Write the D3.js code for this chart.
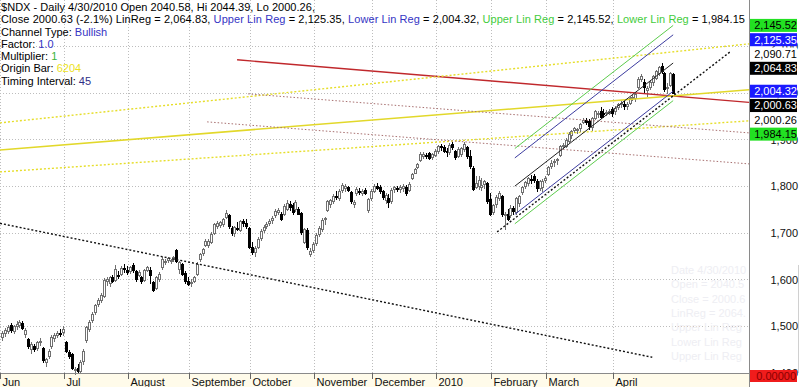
<!DOCTYPE html>
<html><head><meta charset="utf-8">
<script src="https://cdn.jsdelivr.net/npm/d3@7"></script>
<style>
html,body{margin:0;padding:0;background:#fff;}
svg{display:block;font-family:"Liberation Sans",Arial,sans-serif;font-size:11px;}
</style></head><body>
<svg id="chart" width="800" height="387"></svg>
<script>
// ---------------- DATA ----------------
const monthLabels = ["Jun","Jul","August","September","October","November","December","2010","February","March","April"];
const tradingDaysPerMonth = [22,22,21,21,22,20,22,19,19,23,21];
const priceTicks = [1400,1500,1600,1700,1800,1900,2000,2100];
const priceTickLabels = ["1,400","1,500","1,600","1,700","1,800","1,900","2,000","2,100"];

const opens = [
1478,1486,1491,1503,1491,1500,1504,1507,1484,1473,1452,1458,1453,1466,1454,1424,1436,1457,1474,1482,1485,1487,
1466,1446,1441,1406,1411,1405,1425,1470,1495,1513,1530,1548,1557,1566,1597,1594,1605,1600,1611,1613,1625,1621,
1618,1632,1619,1611,1605,1600,1621,1620,1596,1582,1601,1627,1637,1642,1640,1644,1664,1622,1634,1615,1598,
1593,1598,1613,1644,1657,1675,1674,1682,1701,1716,1718,1720,1734,1738,1712,1700,1711,1707,1725,1722,1711,
1670,1660,1670,1690,1706,1715,1721,1728,1738,1745,1742,1741,1752,1762,1760,1752,1752,1743,1682,1707,1655,1663,
1678,1698,1709,1730,1750,1762,1768,1780,1776,1792,1796,1800,1789,1762,1785,1791,1786,1792,1750,1776,
1791,1801,1798,1790,1772,1775,1768,1794,1796,1794,1797,1800,1793,1819,1830,1842,1856,1865,1868,1871,1864,1868,
1877,1886,1884,1876,1874,1892,1876,1866,1870,1880,1885,1866,1840,1800,1802,1798,1806,1808,1774,
1746,1762,1776,1780,1738,1742,1738,1754,1746,1764,1788,1802,1808,1816,1822,1812,1796,1800,1815,
1826,1844,1852,1856,1868,1886,1886,1898,1910,1922,1922,1925,1938,1942,1940,1928,1946,1956,1962,1958,1958,1958,1966,
1962,1970,1976,1978,1972,1980,1990,1990,2014,2030,2025,2008,2014,2024,2032,2044,2058,2044,2012,2018,2040.58];
const highs = [
1490,1497,1503,1508,1504,1511,1513,1511,1496,1476,1467,1462,1469,1475,1456,1432,1452,1481,1485,1490,1494,1500,
1469,1449,1443,1413,1419,1427,1451,1501,1513,1531,1549,1561,1571,1603,1605,1609,1611,1631,1619,1630,1633,1629,
1630,1635,1621,1620,1609,1623,1630,1628,1597,1609,1616,1648,1645,1649,1645,1651,1667,1640,1636,1618,1605,
1602,1609,1638,1658,1669,1687,1688,1702,1722,1726,1727,1733,1750,1740,1716,1716,1724,1729,1731,1730,1713,
1680,1672,1692,1708,1718,1723,1730,1736,1752,1753,1745,1762,1772,1768,1764,1770,1756,1746,1712,1710,1668,1680,
1700,1716,1732,1735,1772,1773,1784,1790,1794,1808,1805,1802,1790,1770,1798,1796,1794,1796,1776,1795,
1806,1808,1804,1792,1785,1783,1796,1801,1802,1803,1806,1804,1809,1830,1840,1851,1873,1873,1872,1874,1872,1880,
1890,1891,1888,1882,1893,1895,1879,1884,1884,1896,1887,1878,1843,1822,1822,1818,1815,1810,1786,
1763,1781,1790,1782,1745,1752,1760,1758,1778,1782,1801,1812,1820,1824,1827,1816,1815,1816,1822,
1845,1856,1858,1862,1889,1894,1904,1916,1922,1928,1926,1936,1946,1946,1944,1948,1964,1962,1970,1966,1964,1966,1970,
1972,1980,1983,1984,1981,1992,1997,2000,2034,2042,2030,2016,2028,2040,2050,2058,2064,2046,2022,2046,2044.39];
const lows = [
1470,1480,1485,1489,1486,1495,1498,1494,1478,1454,1442,1447,1450,1460,1424,1415,1433,1454,1469,1477,1480,1481,
1444,1433,1408,1397,1400,1401,1420,1467,1490,1509,1527,1544,1553,1563,1589,1587,1595,1598,1603,1611,1617,1613,
1615,1617,1598,1608,1593,1597,1618,1594,1576,1580,1598,1624,1634,1639,1636,1641,1638,1614,1610,1594,1588,
1587,1595,1611,1641,1654,1672,1670,1679,1698,1712,1714,1716,1732,1712,1697,1694,1706,1704,1716,1712,1668,
1655,1652,1668,1686,1702,1710,1717,1722,1735,1740,1728,1738,1749,1750,1742,1748,1740,1699,1678,1667,1650,1659,
1674,1693,1705,1720,1748,1757,1765,1774,1772,1789,1790,1790,1765,1757,1782,1783,1782,1784,1745,1772,
1788,1794,1786,1774,1765,1757,1765,1789,1790,1789,1791,1782,1790,1816,1828,1840,1854,1861,1862,1858,1860,1865,
1872,1879,1874,1866,1870,1880,1860,1863,1866,1877,1862,1840,1792,1796,1795,1793,1796,1764,1738,
1741,1755,1770,1737,1708,1728,1734,1740,1742,1758,1784,1796,1804,1808,1810,1791,1792,1790,1810,
1824,1840,1845,1848,1866,1882,1884,1896,1905,1916,1914,1920,1936,1933,1924,1922,1944,1950,1947,1950,1953,1956,1952,
1956,1966,1970,1966,1966,1976,1985,1984,2012,2026,2000,1995,2010,2018,2030,2040,2044,2005,2000,2016,2000.26];
const closes = [
1486,1493,1499,1492,1501,1506,1509,1497,1492,1457,1463,1451,1466,1469,1427,1429,1448,1478,1482,1486,1483,1495,
1447,1437,1411,1409,1405,1423,1448,1498,1509,1527,1545,1557,1567,1599,1601,1605,1598,1624,1608,1626,1622,1616,
1627,1620,1601,1616,1598,1620,1627,1610,1579,1605,1613,1644,1641,1646,1642,1648,1641,1637,1613,1597,1591,
1596,1606,1634,1655,1666,1684,1683,1699,1719,1722,1724,1730,1744,1716,1701,1713,1708,1726,1722,1716,1671,
1660,1668,1688,1705,1714,1720,1727,1733,1748,1749,1731,1758,1764,1756,1745,1766,1742,1702,1709,1670,1661,1676,
1696,1712,1728,1733,1768,1770,1780,1777,1791,1804,1801,1792,1768,1766,1794,1788,1791,1787,1773,1790,
1802,1797,1790,1778,1781,1767,1793,1798,1794,1800,1802,1786,1806,1827,1837,1848,1869,1870,1866,1861,1869,1877,
1886,1884,1877,1875,1890,1884,1863,1880,1882,1891,1866,1844,1795,1808,1815,1804,1811,1768,1742,
1760,1778,1786,1740,1741,1731,1753,1748,1775,1779,1799,1810,1818,1815,1814,1796,1812,1812,1818,
1842,1851,1854,1860,1886,1889,1900,1912,1920,1925,1923,1933,1943,1939,1930,1946,1961,1958,1950,1956,1960,1963,1957,
1968,1978,1980,1972,1978,1990,1992,1998,2031,2037,2013,2012,2024,2037,2047,2056,2047,2009,2014,2043,2000.63];

// drawn lines: day index / price of both ends
const lineNames      = ["longTrend","redLine","yellowUpper","yellowMid","yellowLower","brownUpper","brownLower","channelBase"];
const lineStartDay   = [-0.7, 80.9, -0.7, -0.7, -0.7, 84.7, 70.6, 170.4];
const lineStartPrice = [1721, 2071.7, 1936.5, 1878.5, 1831.3, 1998.7, 1938.6, 1702.6];
const lineEndDay     = [223.8, 257.1, 257.1, 257.1, 257.1, 257.1, 257.1, 251];
const lineEndPrice   = [1433.7, 1980.5, 2106, 2007.3, 1940.8, 1915, 1848.5, 2090.71];

// linear regression channel
const channelNames = ["upperGreen","upperBlue","linReg","lowerBlue","lowerGreen"];
const channelStartDay = 176.5, channelEndDay = 231;
const channelStart = [1881.5, 1861.3, 1800.8, 1740.3, 1720.1];
const channelEnd   = [2145.52, 2125.35, 2064.83, 2004.32, 1984.15];

// price-axis readouts
const readoutValues = [2145.52, 2125.35, 2090.71, 2064.83, 2004.32, 2000.63, 2000.26, 1984.15];
const readoutLabels = ["2,145.52","2,125.35","2,090.71","2,064.83","2,004.32","2,000.63","2,000.26","1,984.15"];
const readoutKinds  = ["green","blue","plain","black","blue","black","plain","green"];

// faint data-window text
const ghostLines = ["Date 4/30/2010","Open = 2040.58","Close = 2000.63","LinReg = 2064.83","Upper Lin Reg = 2125.35","Lower Lin Reg = 2004.32","Upper Lin Reg = 2145.52"];

// ---------------- STYLES ----------------
const lineStyle = {
  longTrend:  {stroke:"#111", w:1.4, dash:"2,2"},
  redLine:    {stroke:"#c0282c", w:1.4, dash:null},
  yellowUpper:{stroke:"#e6de2a", w:1.4, dash:"2,2"},
  yellowMid:  {stroke:"#e2d82a", w:1.5, dash:null},
  yellowLower:{stroke:"#e6de2a", w:1.4, dash:"2,2"},
  brownUpper: {stroke:"#a87070", w:1, dash:"1.5,2"},
  brownLower: {stroke:"#a87070", w:1, dash:"1.5,2"},
  channelBase:{stroke:"#111", w:1.4, dash:"2,2"}
};
const channelStyle = {
  upperGreen:{stroke:"#5ccc4c", w:1}, upperBlue:{stroke:"#3c3ca0", w:1},
  linReg:{stroke:"#222", w:1}, lowerBlue:{stroke:"#3c3ca0", w:1}, lowerGreen:{stroke:"#5ccc4c", w:1}
};
const readoutStyle = {
  green:{bg:"#22e022", fg:"#000"}, blue:{bg:"#1a1aff", fg:"#fff"},
  black:{bg:"#000", fg:"#fff"}, plain:{bg:"#fff", fg:"#000"}
};

// ---------------- CHART ----------------
const svg = d3.select("#chart");
const plotRight = 749, plotBottom = 373;
const x = d3.scaleLinear().domain([-0.7, 257.1]).range([0, plotRight]);
const y = d3.scaleLinear().domain([1400, 2200]).range([plotBottom, 0]);
const step = x(1) - x(0);
const monthStart = [0, ...d3.cumsum(tradingDaysPerMonth)].slice(0, monthLabels.length);
const px = v => Math.floor(v) + 0.5;

svg.append("rect").attr("width",800).attr("height",387).attr("fill","#fff");
svg.append("rect").attr("x",0).attr("y",plotBottom).attr("width",plotRight).attr("height",387-plotBottom).attr("fill","#fffbea");

// grid
const grid = svg.append("g").attr("stroke","#bdbdbd").attr("stroke-dasharray","1,2").attr("stroke-width",1);
priceTicks.forEach(p => grid.append("line").attr("x1",0).attr("x2",plotRight).attr("y1",px(y(p))).attr("y2",px(y(p))));
monthStart.forEach(d => { const gx = px(x(d) - step/2); grid.append("line").attr("x1",gx).attr("x2",gx).attr("y1",0).attr("y2",plotBottom); });

// faint data window, cut at the plot's right edge
const gg = svg.append("g");
ghostLines.forEach((t,i) => {
  const el = gg.append("text").attr("x",671).attr("y",274+i*14.3).attr("fill","#eeeef3").text(t);
  let s = t;
  while (s.length > 1 && 671 + el.node().getComputedTextLength() > plotRight - 1) { s = s.slice(0,-1); el.text(s); }
});

// candles
const candles = svg.append("g");
closes.forEach((c,i) => {
  const o = opens[i], up = c >= o, cx = Math.round(x(i));
  const col = up ? "#707070" : "#000";
  candles.append("line").attr("x1",cx+0.5).attr("x2",cx+0.5)
    .attr("y1",Math.round(y(highs[i]))).attr("y2",Math.round(y(lows[i]))+1).attr("stroke",col).attr("stroke-width",1);
  const top = Math.round(y(Math.max(o,c))), bot = Math.round(y(Math.min(o,c)));
  candles.append("rect").attr("x",cx-0.5).attr("y",top+0.5).attr("width",2).attr("height",Math.max(1,bot-top))
    .attr("fill", up ? "#fff" : "#000").attr("stroke",col).attr("stroke-width",1);
});

// trend lines
const lg = svg.append("g").attr("fill","none");
lineNames.forEach((n,i) => {
  const s = lineStyle[n];
  lg.append("line").attr("x1",x(lineStartDay[i])).attr("y1",y(lineStartPrice[i]))
    .attr("x2",x(lineEndDay[i])).attr("y2",y(lineEndPrice[i]))
    .attr("stroke",s.stroke).attr("stroke-width",s.w).attr("stroke-dasharray",s.dash);
});
channelNames.forEach((n,i) => {
  const s = channelStyle[n];
  lg.append("line").attr("x1",x(channelStartDay)).attr("y1",y(channelStart[i]))
    .attr("x2",x(channelEndDay)).attr("y2",y(channelEnd[i]))
    .attr("stroke",s.stroke).attr("stroke-width",s.w);
});

// frame
svg.append("line").attr("x1",0).attr("x2",plotRight).attr("y1",plotBottom+0.5).attr("y2",plotBottom+0.5).attr("stroke","#8a8a8a");
svg.append("line").attr("x1",plotRight+0.5).attr("x2",plotRight+0.5).attr("y1",0).attr("y2",387).attr("stroke","#8a8a8a");
svg.append("line").attr("x1",798.5).attr("x2",798.5).attr("y1",265).attr("y2",plotBottom).attr("stroke","#d0d0d0");

// x axis
const xa = svg.append("g");
monthLabels.forEach((m,i) => {
  const tx = px(x(monthStart[i]) - step/2);
  xa.append("line").attr("x1",tx).attr("x2",tx).attr("y1",plotBottom).attr("y2",plotBottom+6).attr("stroke","#666");
  xa.append("text").attr("x",tx+2).attr("y",386).attr("fill","#111").text(m);
});

// y axis labels
const ya = svg.append("g");
priceTicks.forEach((p,i) => ya.append("text").attr("x",798).attr("y",y(p)).attr("dy","0.35em")
  .attr("text-anchor","end").attr("fill","#111").text(priceTickLabels[i]));

// readouts
let lastY = -100;
const ro = svg.append("g");
readoutValues.forEach((v,i) => {
  let cy = Math.max(y(v), lastY + 14.3); lastY = cy;
  const st = readoutStyle[readoutKinds[i]];
  ro.append("rect").attr("x",750).attr("y",cy-6.5).attr("width",47).attr("height",13).attr("fill",st.bg);
  ro.append("text").attr("x",797).attr("y",cy).attr("dy","0.36em").attr("text-anchor","end").attr("fill",st.fg).text(readoutLabels[i]);
});
ro.append("rect").attr("x",750).attr("y",plotBottom-3).attr("width",47).attr("height",12).attr("fill","#f01c1c");
ro.append("text").attr("x",796).attr("y",plotBottom+3).attr("dy","0.36em").attr("text-anchor","end").attr("fill","#8a0000").text("0.00000");

// header text
const header = [
  [["$NDX - Daily 4/30/2010 Open 2040.58, Hi 2044.39, Lo 2000.26,","#000"]],
  [["Close 2000.63 (-2.1%) LinReg = 2,064.83, ","#000"],["Upper Lin Reg","#3434c4"],[" = 2,125.35, ","#000"],["Lower Lin Reg","#3434c4"],[" = 2,004.32, ","#000"],["Upper Lin Reg","#44cc3c"],[" = 2,145.52, ","#000"],["Lower Lin Reg","#44cc3c"],[" = 1,984.15","#000"]],
  [["Channel Type: ","#000"],["Bullish","#3434c4"]],
  [["Factor: ","#000"],["1.0","#3434c4"]],
  [["Multiplier: ","#000"],["1","#3cb43c"]],
  [["Origin Bar: ","#000"],["6204","#ece21c"]],
  [["Timing Interval: ","#000"],["45","#2e2e86"]]
];
const headerWidths = [314, 744];
header.forEach((segs,i) => {
  const t = svg.append("text").attr("x",1).attr("y",11 + i*12.25).style("white-space","pre");
  segs.forEach(s => t.append("tspan").attr("fill",s[1]).text(s[0]));
  if (headerWidths[i]) {
    const w = t.node().getComputedTextLength();
    const n = segs.map(s => s[0]).join("").length;
    t.selectAll("tspan").style("letter-spacing", ((headerWidths[i] - w) / n) + "px");
  }
});
</script>
</body></html>
